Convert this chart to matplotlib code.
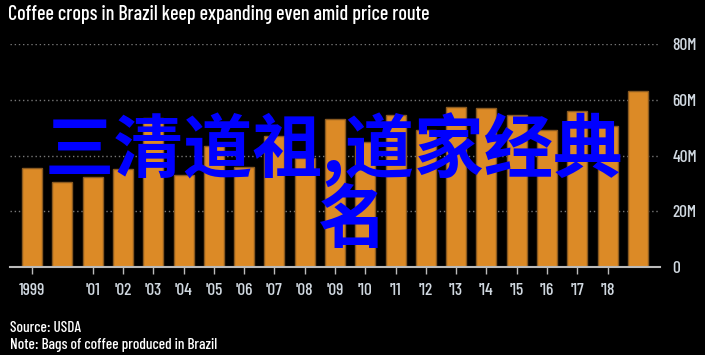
import numpy as np
import matplotlib.pyplot as plt

# Данные: производство кофе в Бразилии, млн мешков
years = list(range(1999, 2020))
bags = [35.6, 30.7, 32.3, 35.1, 53.6, 33.2, 43.6, 35.9, 46.9, 39.1,
        53.2, 44.9, 54.4, 49.3, 57.6, 57.1, 54.4, 49.3, 56.1, 50.8, 63.2]
tick_years = [1999] + list(range(2001, 2019))
tick_labels = ['1999'] + ["'%02d" % (y % 100) for y in range(2001, 2019)]
y_ticks = [0, 20, 40, 60, 80]
y_labels = ['0', '20M', '40M', '60M', '80M']

narrow = ['Barlow Condensed', 'Roboto Condensed', 'Archivo Narrow',
          'Liberation Sans', 'DejaVu Sans']
plt.rcParams['font.family'] = narrow
plt.rcParams['font.weight'] = 'medium'

fig = plt.figure(figsize=(7.05, 3.55), dpi=100, facecolor='black')
ax = fig.add_axes([10 / 705, 1 - 267.3 / 355, 650 / 705, (267.3 - 44) / 355])
ax.set_facecolor('black')

x = np.arange(len(years))
ax.bar(x, bags, width=0.66, color='#dc8a26', edgecolor='#8a5a20', linewidth=1, zorder=2)

ax.set_xlim(-0.73, len(years) - 0.27)
ax.set_ylim(0, 80)

ax.set_yticks(y_ticks)
ax.set_yticklabels(y_labels)
ax.yaxis.tick_right()
ax.tick_params(axis='y', length=0, pad=9, labelsize=12.5, labelcolor='#d0d8e0')
ax.grid(axis='y', color='#777777', linestyle=(0, (1, 2)), linewidth=1, zorder=1)

ax.set_xticks([years.index(y) for y in tick_years])
ax.set_xticklabels(tick_labels)
ax.tick_params(axis='x', length=5, width=1, color='#bbbbbb', pad=6,
               labelsize=12.5, labelcolor='#d0d8e0')

for s in ['top', 'left', 'right']:
    ax.spines[s].set_visible(False)
ax.spines['bottom'].set_color('#bbbbbb')
ax.spines['bottom'].set_linewidth(1.5)
ax.spines['bottom'].set_zorder(3)

fig.text(8 / 705, 1 - 20 / 355, 'Coffee crops in Brazil keep expanding even amid price route',
         color='white', fontsize=14.5, va='baseline')
fig.text(10 / 705, 1 - 332 / 355, 'Source: USDA', color='white', fontsize=11, va='baseline')
fig.text(10 / 705, 1 - 349 / 355, 'Note: Bags of coffee produced in Brazil',
         color='white', fontsize=11, va='baseline')

# Наложенная надпись
cjk = ['Noto Sans CJK SC', 'DejaVu Sans']
fig.text(334 / 705, 1 - 150 / 355, '三清道祖,道家经典', color='#0000ff', fontsize=50,
         fontweight='bold', family=cjk, ha='center', va='center', zorder=10)
fig.text(352 / 705, 1 - 222 / 355, '名', color='#0000ff', fontsize=50,
         fontweight='bold', family=cjk, ha='center', va='center', zorder=10)

fig.savefig('out.png', dpi=100, facecolor='black')
